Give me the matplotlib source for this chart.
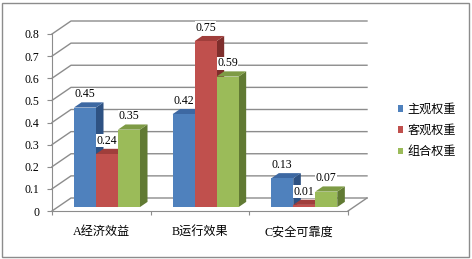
import matplotlib
matplotlib.use('Agg')
import matplotlib.pyplot as plt
from matplotlib.patches import Polygon, Rectangle, Patch

categories = ['A经济效益', 'B运行效果', 'C安全可靠度']
series = ['主观权重', '客观权重', '组合权重']
subjective = [0.45, 0.42, 0.13]
objective = [0.24, 0.75, 0.01]
combined = [0.35, 0.59, 0.07]
yticks = [0, 0.1, 0.2, 0.3, 0.4, 0.5, 0.6, 0.7, 0.8]

front_colors = ['#4F81BD', '#C0504D', '#9BBB59']
top_colors = ['#3D68A2', '#A03E3B', '#7E9B45']
side_colors = ['#2E5283', '#7E2E2C', '#617A33']
grid_color = '#8C8C8C'

plt.rcParams['font.family'] = ['Liberation Serif', 'Noto Sans CJK SC']

W, H = 472, 259
fig = plt.figure(figsize=(W / 100, H / 100), dpi=100)

# front axis: x 0..3 -> px 52..348, y 0..0.8 -> px 211..34
px_x = 296 / 3
px_y = 177 / 0.8
xmax, ymax = 3.3, 0.9
ax = fig.add_axes([52 / W, (H - 211) / H, xmax * px_x / W, ymax * px_y / H])
ax.set_xlim(0, xmax)
ax.set_ylim(0, ymax)

depth_x = 19 / px_x
depth_y = 13 / px_y
t0, t1 = 0.3, 0.7
bar_w = 0.223
start = 0.222

# back wall grid + slanted connectors
for v in yticks:
    ax.plot([0, depth_x, 3 + depth_x], [v, v + depth_y, v + depth_y],
            color=grid_color, lw=1.0, clip_on=False, zorder=1)
ax.plot([3, 3 + depth_x], [0, depth_y], color=grid_color, lw=1.0, clip_on=False, zorder=1)

ddx = depth_x * (t1 - t0)
ddy = depth_y * (t1 - t0)
y0 = depth_y * t0
data = [subjective, objective, combined]
for i in range(len(categories)):
    for j, vals in enumerate(data):
        v = vals[i]
        x = i + start + j * bar_w
        z = 3 + (i * 3 + j) * 0.1
        side = Polygon([(x + bar_w, y0), (x + bar_w + ddx, y0 + ddy),
                        (x + bar_w + ddx, y0 + v + ddy), (x + bar_w, y0 + v)],
                       closed=True, fc=side_colors[j], ec='none', zorder=z, clip_on=False)
        top = Polygon([(x, y0 + v), (x + ddx, y0 + v + ddy),
                       (x + bar_w + ddx, y0 + v + ddy), (x + bar_w, y0 + v)],
                      closed=True, fc=top_colors[j], ec='none', zorder=z, clip_on=False)
        ax.add_patch(side)
        ax.add_patch(top)
        ax.bar(x, v, width=bar_w, bottom=y0, align='edge', color=front_colors[j],
               edgecolor='none', zorder=z + 0.01, clip_on=False)
        ax.annotate('{:.2f}'.format(v), (x + bar_w / 2, y0 + v), xytext=(0, 9.5),
                    textcoords='offset points', ha='center', va='center', fontsize=8.5,
                    zorder=10, bbox=dict(fc='white', ec='none', pad=0.3))

for s in ['top', 'right']:
    ax.spines[s].set_visible(False)
ax.spines['left'].set_bounds(0, 0.8)
ax.spines['bottom'].set_bounds(0, 3)
ax.spines['left'].set_color(grid_color)
ax.spines['bottom'].set_color(grid_color)
ax.patch.set_visible(False)

ax.set_yticks(yticks)
ax.set_yticklabels(['{:g}'.format(t) for t in yticks])
ax.tick_params(axis='y', length=3.5, pad=5.5, color=grid_color, labelsize=8.5)
ax.set_xticks([0, 1, 2, 3])
ax.set_xticklabels([])
ax.tick_params(axis='x', which='major', length=3, color=grid_color)
ax.set_xticks([0.5, 1.5, 2.5], minor=True)
ax.set_xticklabels(categories, minor=True)
ax.tick_params(axis='x', which='minor', length=0, pad=11, labelsize=8.7)

handles = [Patch(fc=c, ec='none') for c in front_colors]
fig.legend(handles, series, loc='center left', bbox_to_anchor=(398 / W, 1 - 131 / H),
           frameon=False, fontsize=8.7, handlelength=0.45, handleheight=0.45,
           handletextpad=0.35, labelspacing=0.75, borderpad=0, borderaxespad=0)

fig.add_artist(Rectangle((2 / W, 2 / H), 467 / W, 254 / H, transform=fig.transFigure,
                         fill=False, ec='#8C8C8C', lw=1.0))

fig.savefig('out.png', dpi=100)
